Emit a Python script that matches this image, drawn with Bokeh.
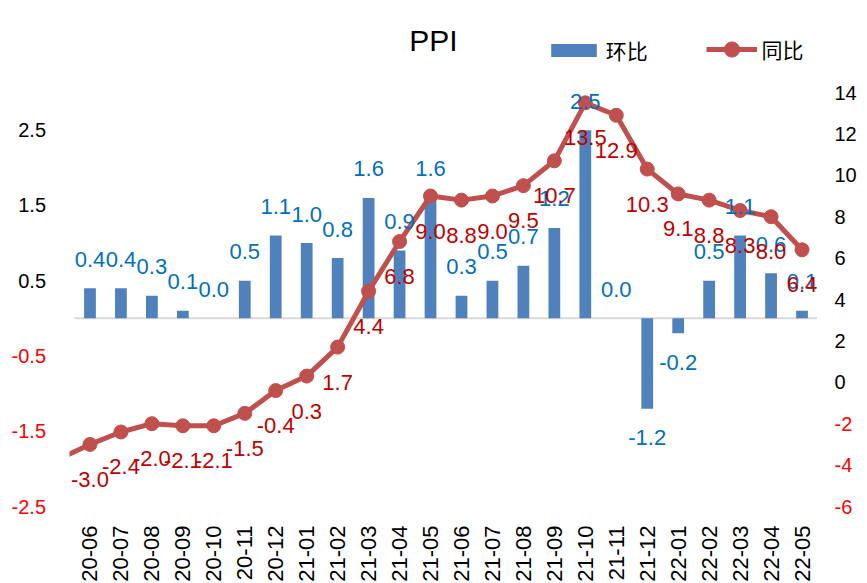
import math
from bokeh.plotting import figure
from bokeh.layouts import row
from bokeh.models import (Range1d, FixedTicker, ColumnDataSource,
                          Legend, LegendItem, Label)
from bokeh.core.properties import value
from bokeh.embed import file_html
from bokeh.resources import INLINE

months = ["20-06", "20-07", "20-08", "20-09", "20-10", "20-11", "20-12",
          "21-01", "21-02", "21-03", "21-04", "21-05", "21-06", "21-07",
          "21-08", "21-09", "21-10", "21-11", "21-12",
          "22-01", "22-02", "22-03", "22-04", "22-05"]
mom = [0.4, 0.4, 0.3, 0.1, 0.0, 0.5, 1.1, 1.0, 0.8, 1.6, 0.9, 1.6,
       0.3, 0.5, 0.7, 1.2, 2.5, 0.0, -1.2, -0.2, 0.5, 1.1, 0.6, 0.1]
yoy = [-3.0, -2.4, -2.0, -2.1, -2.1, -1.5, -0.4, 0.3, 1.7, 4.4, 6.8, 9.0,
       8.8, 9.0, 9.5, 10.7, 13.5, 12.9, 10.3, 9.1, 8.8, 8.3, 8.0, 6.4]
yoy_prev = -3.7   # 20-05, only visible as the segment entering at the left edge
left_ticks = [-2.5, -1.5, -0.5, 0.5, 1.5, 2.5]
right_ticks = [-6, -4, -2, 0, 2, 4, 6, 8, 10, 12, 14]
left_lim = (-2.5, 3.0)
right_lim = (-6, 14)

FONT = "Liberation Sans"
CJK = "Noto Sans CJK SC"
BAR = "#4F81BD"
LINE = "#C0504D"
NEG = "#FF0000"

n = len(months)
idx = list(range(n))

# value-axis area height, head room strip (title, legend), foot room for side labels
H = 414
E = 73
B = 16
TOP = 19
PADL = 5                      # a few pixels left of the first category
LW, FW, RW = 69, 743 + PADL, 40
sl = (left_lim[1] - left_lim[0]) / H
sr = (right_lim[1] - right_lim[0]) / H
y_left = Range1d(left_lim[0], left_lim[1] + E * sl)
y_right = Range1d(right_lim[0], right_lim[1] + E * sr)
x_start = -0.5 - PADL / ((FW - PADL) / n)

p = figure(frame_width=FW, frame_height=H + E, output_backend="svg",
           toolbar_location=None, title=None, y_axis_type=None,
           x_range=Range1d(x_start, n - 0.5), y_range=y_left,
           min_border_left=0, min_border_right=0, min_border_top=TOP,
           min_border_bottom=60)
p.extra_y_ranges = {"yoy": y_right}
p.outline_line_color = None
p.grid.visible = False

# x axis
xa = p.xaxis[0]
xa.ticker = FixedTicker(ticks=idx)
xa.major_label_overrides = {i: m for i, m in zip(idx, months)}
xa.major_label_orientation = math.pi / 2
xa.axis_line_color = None
xa.major_tick_line_color = None
xa.minor_tick_line_color = None
xa.major_label_standoff = 13
xa.major_label_text_font = FONT
xa.major_label_text_font_size = "22px"
xa.major_label_text_color = "black"

# zero (category) line across the category extent
p.segment(x0=-0.5, x1=n - 0.5, y0=0, y1=0, line_color="#D9D9D9", line_width=2)

src = ColumnDataSource(dict(x=idx, mom=mom, yoy=yoy,
                            yoy_t=[f"{v:.1f}" for v in yoy]))

bars = p.vbar(x="x", top="mom", bottom=0, width=0.38, source=src,
              fill_color=BAR, line_color=None)

line = p.line(x=[-1] + idx, y=[yoy_prev] + yoy, y_range_name="yoy",
              line_width=5, line_color=LINE)
dots = p.scatter(x="x", y="yoy", source=src, y_range_name="yoy", size=14,
                 fill_color=LINE, line_color=LINE)

pos_i = [i for i in idx if mom[i] >= 0]
neg_i = [i for i in idx if mom[i] < 0]
p.text(x=pos_i, y=[mom[i] for i in pos_i], text=[f"{mom[i]:.1f}" for i in pos_i],
       text_align="center", text_baseline="middle", y_offset=-29,
       text_color="#0070C0", text_font=value(FONT), text_font_size="22px")
p.text(x=neg_i, y=[mom[i] for i in neg_i], text=[f"{mom[i]:.1f}" for i in neg_i],
       text_align="center", text_baseline="middle", y_offset=29,
       text_color="#0070C0", text_font=value(FONT), text_font_size="22px")
p.text(x="x", y="yoy", text="yoy_t", source=src, y_range_name="yoy",
       text_align="center", text_baseline="middle", y_offset=35,
       text_color="#C00000", text_font=value(FONT), text_font_size="22px")

common = dict(orientation="horizontal", padding=0, margin=0,
              border_line_alpha=0, background_fill_alpha=0,
              label_text_font=CJK, label_text_font_size="21px",
              label_text_color="black")
leg1 = Legend(items=[LegendItem(label="环比", renderers=[bars])],
              location=(470.8 + PADL, 441), glyph_width=57, glyph_height=16,
              label_standoff=4, **common)
leg2 = Legend(items=[LegendItem(label="同比", renderers=[line, dots])],
              location=(631.5 + PADL, 438), glyph_width=51, glyph_height=38,
              label_standoff=5, **common)
p.add_layout(leg1)
p.add_layout(leg2)

p.add_layout(Label(x=359 + PADL, y=466, x_units="screen", y_units="screen",
                   text="PPI", text_align="center", text_baseline="middle",
                   text_font=FONT, text_font_size="30px", text_color="black"))


def side(width, lim, s):
    f = figure(frame_width=width, frame_height=H + E + B, output_backend="svg",
               toolbar_location=None, title=None, x_axis_type=None,
               y_axis_type=None, x_range=Range1d(0, width),
               y_range=Range1d(lim[0] - B * s, lim[1] + E * s),
               min_border=0, min_border_top=TOP)
    f.outline_line_color = None
    f.grid.visible = False
    return f


# left value-axis labels (negative ones in red)
pl = side(LW, left_lim, sl)
pl.text(x=LW - 23.5, y=left_ticks, text=[f"{t:.1f}" for t in left_ticks],
        text_align="right", text_baseline="middle", text_font=value(FONT),
        text_font_size="20px",
        text_color=[NEG if t < 0 else "black" for t in left_ticks])

# right value-axis labels
pr = side(RW, right_lim, sr)
pr.text(x=17, y=right_ticks, text=[str(t) for t in right_ticks],
        text_align="left", text_baseline="middle", text_font=value(FONT),
        text_font_size="20px",
        text_color=[NEG if t < 0 else "black" for t in right_ticks])

layout = row(pl, p, pr)
open("out.html", "w").write(file_html(layout, INLINE))
